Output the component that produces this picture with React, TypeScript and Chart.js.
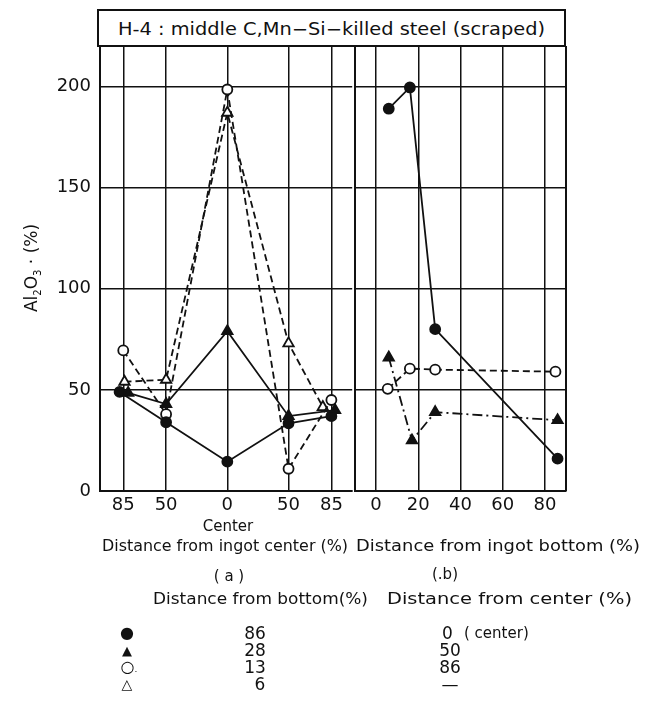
import React, { useEffect, useRef } from "react";
import { Chart, registerables } from "chart.js";

Chart.register(...registerables);

// Tick positions
const centerTicks = [-85, -50, 0, 50, 85]; // (a) distance from ingot center, both sides
const bottomTicks = [0, 20, 40, 60, 80]; // (b) distance from ingot bottom
const yTicks = [0, 50, 100, 150, 200];

// (a) one series per height (distance from bottom, %)
const aX86 = [-88, -50, 0, 50, 85];
const aY86 = [49, 34, 14.5, 33.5, 37];
const aX28 = [-81, -50, 0, 50, 88];
const aY28 = [48.5, 43, 79, 37, 40];
const aX13 = [-85, -50, 0, 50, 85];
const aY13 = [69.5, 38, 198.5, 11, 45];
const aX6 = [-84, -50, 0, 50, 78];
const aY6 = [54, 55, 187, 73, 41.5];

// (b) one series per radial position (distance from center, %)
const bX0 = [6, 16, 28, 86];
const bY0 = [189, 199.5, 80, 16];
const bX50 = [6, 17, 28, 86];
const bY50 = [66, 25, 39, 35];
const bX86 = [5.5, 16, 28, 85];
const bY86 = [50.5, 60.5, 60, 59];

const INK = "#111";
const FONT = "'DejaVu Sans', sans-serif";

type Mark = "dot" | "tri" | "ring" | "opentri";

function series(xs: number[], ys: number[], mark: Mark, dash: number[]) {
  const filled = mark === "dot" || mark === "tri";
  const isTri = mark === "tri" || mark === "opentri";
  return {
    data: xs.map((x, i) => ({ x, y: ys[i] })),
    showLine: true,
    borderColor: INK,
    borderWidth: 1.8,
    borderDash: dash,
    pointStyle: isTri ? "triangle" : "circle",
    pointRadius: isTri ? 6 : 5,
    pointBorderWidth: 1.8,
    pointBorderColor: INK,
    pointBackgroundColor: filled ? INK : "#fff",
    clip: false,
  };
}

// Outline of the plotting area; the shared divider is drawn by panel (b) only
function framePlugin(withLeftEdge: boolean, withRightEdge: boolean) {
  return {
    id: "frame",
    beforeDatasetsDraw(chart: any) {
      const { ctx, chartArea: a } = chart;
      ctx.save();
      ctx.strokeStyle = INK;
      ctx.lineWidth = 2;
      ctx.beginPath();
      ctx.moveTo(a.left, a.top);
      ctx.lineTo(a.right, a.top);
      if (withRightEdge) {
        ctx.moveTo(a.right, a.top);
        ctx.lineTo(a.right, a.bottom);
      }
      if (withLeftEdge) {
        ctx.moveTo(a.left, a.top);
        ctx.lineTo(a.left, a.bottom);
      }
      ctx.moveTo(a.left, a.bottom);
      ctx.lineTo(a.right, a.bottom);
      ctx.stroke();
      ctx.restore();
    },
  };
}

function noPad(s: any) {
  s.paddingTop = 0;
  s.paddingBottom = 0;
  s.paddingLeft = 0;
  s.paddingRight = 0;
}

function baseOptions(
  xMin: number,
  xMax: number,
  xTicks: number[],
  showY: boolean,
  padding: any,
  xLabel: (v: number) => string
) {
  return {
    responsive: false,
    maintainAspectRatio: false,
    animation: false,
    layout: { padding },
    plugins: { legend: { display: false }, tooltip: { enabled: false } },
    scales: {
      x: {
        type: "linear",
        min: xMin,
        max: xMax,
        afterBuildTicks: (s: any) => {
          s.ticks = xTicks.map((v) => ({ value: v }));
        },
        afterFit: (s: any) => {
          s.height = 30;
          noPad(s);
        },
        grid: { color: INK, lineWidth: 1.5, drawTicks: false },
        border: { color: INK, width: 2 },
        ticks: {
          color: INK,
          padding: 4,
          maxRotation: 0,
          autoSkip: false,
          font: { family: FONT, size: 18 },
          callback: (v: any) => xLabel(Number(v)),
        },
      },
      y: {
        type: "linear",
        min: 0,
        max: 220,
        afterBuildTicks: (s: any) => {
          s.ticks = yTicks.map((v) => ({ value: v }));
        },
        afterFit: (s: any) => {
          s.width = showY ? 100 : 0;
          noPad(s);
        },
        grid: { color: INK, lineWidth: 1.5, drawTicks: false },
        border: { color: INK, width: 2 },
        ticks: {
          display: showY,
          color: INK,
          padding: 9,
          font: { family: FONT, size: 18 },
        },
      },
    },
  };
}

export default function App() {
  const leftRef = useRef<HTMLCanvasElement | null>(null);
  const rightRef = useRef<HTMLCanvasElement | null>(null);

  useEffect(() => {
    const left = new Chart(leftRef.current as HTMLCanvasElement, {
      type: "scatter",
      data: {
        datasets: [
          series(aX86, aY86, "dot", []),
          series(aX28, aY28, "tri", []),
          series(aX13, aY13, "ring", [7, 4]),
          series(aX6, aY6, "opentri", [7, 4]),
        ],
      },
      options: baseOptions(-104, 102, centerTicks, true, { top: 10, right: 2, left: 0, bottom: 0 }, (v) =>
        String(Math.abs(v))
      ) as any,
      plugins: [framePlugin(true, false)],
    });
    const right = new Chart(rightRef.current as HTMLCanvasElement, {
      type: "scatter",
      data: {
        datasets: [
          series(bX0, bY0, "dot", []),
          series(bX50, bY50, "tri", [10, 4, 2, 4]),
          series(bX86, bY86, "ring", [7, 4]),
        ],
      },
      options: baseOptions(-10, 90, bottomTicks, false, { top: 10, right: 20, left: 10, bottom: 0 }, (v) =>
        String(v)
      ) as any,
      plugins: [framePlugin(true, true)],
    });
    return () => {
      left.destroy();
      right.destroy();
    };
  }, []);

  const txt = { fontFamily: FONT, fill: INK } as const;

  return (
    <div style={{ position: "absolute", left: 0, top: 0, width: 657, height: 706, background: "#fff" }}>
      <canvas
        ref={leftRef}
        width={360}
        height={485}
        style={{ position: "absolute", left: 0, top: 36, width: 360, height: 485 }}
      />
      <canvas
        ref={rightRef}
        width={241}
        height={485}
        style={{ position: "absolute", left: 345, top: 36, width: 241, height: 485 }}
      />
      <svg
        width={657}
        height={706}
        style={{ position: "absolute", left: 0, top: 0, pointerEvents: "none" }}
      >
        <rect x={98} y={10} width={467} height={36} fill="#fff" stroke={INK} strokeWidth={2} />
        <text {...txt} x={118} y={35} fontSize={17} textLength={427} lengthAdjust="spacingAndGlyphs">
          H-4 : middle C,Mn−Si−killed steel (scraped)
        </text>

        <text {...txt} fontSize={17} textAnchor="middle" transform="translate(37,268) rotate(-90)">
          Al<tspan fontSize={10} dy={4}>2</tspan>
          <tspan dy={-4}>O</tspan>
          <tspan fontSize={10} dy={4}>3</tspan>
          <tspan dy={-4}> · (%)</tspan>
        </text>

        <text {...txt} x={228} y={531} fontSize={15} textAnchor="middle">Center</text>
        <text {...txt} x={102} y={551} fontSize={15} textLength={246} lengthAdjust="spacingAndGlyphs">
          Distance from ingot center (%)
        </text>
        <text {...txt} x={356} y={551} fontSize={15} textLength={284} lengthAdjust="spacingAndGlyphs">
          Distance from ingot bottom (%)
        </text>
        <text {...txt} x={229} y={581} fontSize={15} textAnchor="middle">( a )</text>
        <text {...txt} x={445} y={579} fontSize={15} textAnchor="middle">(.b)</text>

        <text {...txt} x={153} y={604} fontSize={15} textLength={215} lengthAdjust="spacingAndGlyphs">
          Distance from bottom(%)
        </text>
        <text {...txt} x={387} y={604} fontSize={15} textLength={245} lengthAdjust="spacingAndGlyphs">
          Distance from center (%)
        </text>

        <text {...txt} x={127} y={638} fontSize={16} textAnchor="middle">●</text>
        <text {...txt} x={127} y={655} fontSize={13} textAnchor="middle">▲</text>
        <text {...txt} x={129} y={672} fontSize={16} textAnchor="middle">○<tspan fontSize={9}>.</tspan></text>
        <text {...txt} x={127} y={689} fontSize={14} textAnchor="middle">△</text>

        <text {...txt} x={255} y={639} fontSize={17} textAnchor="middle">86</text>
        <text {...txt} x={255} y={656} fontSize={17} textAnchor="middle">28</text>
        <text {...txt} x={255} y={673} fontSize={17} textAnchor="middle">13</text>
        <text {...txt} x={260} y={690} fontSize={17} textAnchor="middle">6</text>

        <text {...txt} x={442} y={639} fontSize={17}>0</text>
        <text {...txt} x={464} y={638} fontSize={15}>( center)</text>
        <text {...txt} x={450} y={656} fontSize={17} textAnchor="middle">50</text>
        <text {...txt} x={450} y={673} fontSize={17} textAnchor="middle">86</text>
        <text {...txt} x={450} y={690} fontSize={17} textAnchor="middle">—</text>
      </svg>
    </div>
  );
}
